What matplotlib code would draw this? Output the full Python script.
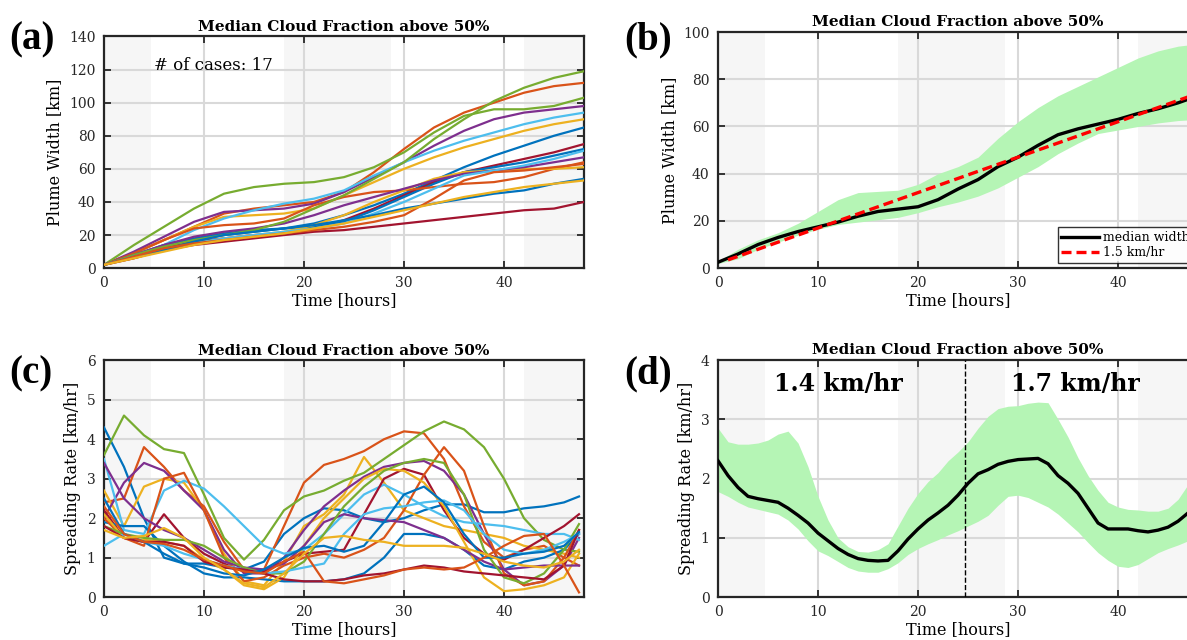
import matplotlib.pyplot as plt

plt.rcParams['font.family'] = ['DejaVu Serif']

# MATLAB default colour order
c_blue, c_orange, c_yellow = '#0072BD', '#D95319', '#EDB120'
c_purple, c_green, c_lblue, c_red = '#7E2F8E', '#77AC30', '#4DBEEE', '#A2142F'

# night-time shading (hours)
night = [(0, 4.7), (18, 28.7), (42, 48)]

# ---------------- panel (a): plume width of each case ----------------
t_a = [0, 3, 6, 9, 12, 15, 18, 21, 24, 27, 30, 33, 36, 39, 42, 45, 48]
width_cases = [
    (c_blue,   [2, 7, 12, 17, 20, 22, 24, 27, 32, 38, 45, 53, 61, 68, 74, 80, 85]),
    (c_orange, [2, 9, 17, 25, 33, 36, 38, 40, 46, 58, 72, 85, 94, 100, 106, 110, 112]),
    (c_yellow, [2, 9, 17, 25, 31, 32, 33, 36, 44, 52, 60, 67, 73, 78, 83, 87, 90]),
    (c_purple, [2, 10, 19, 28, 34, 35, 36, 39, 46, 55, 64, 74, 83, 90, 94, 96, 98]),
    (c_green,  [2, 14, 25, 36, 45, 49, 51, 52, 55, 61, 70, 82, 92, 96, 96, 98, 103]),
    (c_lblue,  [2, 7, 14, 23, 30, 35, 39, 42, 47, 56, 64, 71, 77, 82, 87, 91, 94]),
    (c_red,    [2, 7, 12, 16, 18, 20, 21, 24, 29, 36, 44, 52, 58, 62, 66, 70, 75]),
    (c_blue,   [2, 8, 14, 18, 21, 23, 24, 25, 28, 35, 43, 51, 58, 61, 64, 68, 72]),
    (c_orange, [2, 9, 17, 24, 26, 27, 30, 38, 43, 46, 47, 49, 51, 52, 55, 60, 64]),
    (c_yellow, [2, 6, 11, 15, 18, 20, 22, 26, 32, 40, 47, 54, 58, 59, 60, 60, 61]),
    (c_purple, [2, 8, 14, 19, 22, 24, 27, 32, 38, 43, 48, 53, 57, 59, 61, 64, 67]),
    (c_green,  [2, 8, 13, 17, 20, 23, 28, 36, 44, 54, 64, 78, 90, 101, 109, 115, 119]),
    (c_lblue,  [2, 7, 11, 15, 18, 20, 22, 24, 27, 33, 40, 48, 56, 59, 62, 66, 71]),
    (c_red,    [2, 6, 11, 14, 16, 18, 20, 22, 23, 25, 27, 29, 31, 33, 35, 36, 40]),
    (c_blue,   [2, 7, 11, 16, 20, 22, 24, 26, 29, 32, 36, 39, 42, 45, 47, 51, 54]),
    (c_orange, [2, 7, 12, 15, 17, 19, 21, 23, 25, 28, 32, 42, 53, 58, 59, 61, 63]),
    (c_yellow, [2, 6, 10, 14, 17, 19, 21, 24, 27, 31, 35, 39, 43, 46, 49, 51, 53]),
]

# ---------------- panel (b): median width and spread ----------------
t_b = [0, 2, 4, 6, 8, 10, 12, 14, 16, 18, 20, 22, 24, 26, 28, 30, 32, 34, 36, 38, 40, 42, 44, 46, 48]
width_median = [2.5, 6, 10, 13, 15.5, 17.5, 19.5, 22, 24, 25, 26, 29, 33.5, 37.5, 43, 47,
                52, 56.5, 59, 61, 63, 65.5, 67.5, 70, 73]
width_upper = [3, 8, 12, 15, 19, 24, 29, 32, 32.5, 33, 35.5, 40, 43, 47, 55, 62,
               68, 73, 77, 81, 85, 89, 92, 94, 95]
width_lower = [2, 4, 8, 11, 14, 16.5, 18.5, 19.5, 20.5, 21.5, 23.5, 26, 28, 30.5, 34, 38.5,
               43, 48.5, 53, 57, 58.5, 60, 61.5, 62.5, 63]
fit_t = [1, 48]
fit_w = [3.5, 74]

# ---------------- panel (c): spreading rate of each case ----------------
t_c = [0, 2, 4, 6, 8, 10, 12, 14, 16, 18, 20, 22, 24, 26, 28, 30, 32, 34, 36, 38, 40, 42, 44, 46, 47.5]
rate_cases = [
    (c_blue,   [4.3, 3.3, 2.0, 1.0, 0.85, 0.85, 0.75, 0.7, 0.9, 1.6, 2.0, 2.25, 2.2, 2.0, 1.9, 2.0,
                2.2, 2.35, 2.35, 2.15, 2.15, 2.25, 2.3, 2.4, 2.55]),
    (c_orange, [2.4, 2.5, 3.8, 3.3, 2.7, 2.3, 1.4, 0.7, 0.7, 1.8, 2.9, 3.35, 3.5, 3.7, 4.0, 4.2,
                4.15, 3.5, 2.3, 1.4, 1.0, 1.2, 1.3, 1.0, 0.8]),
    (c_yellow, [2.7, 1.8, 2.8, 3.0, 2.9, 2.2, 1.1, 0.4, 0.3, 0.9, 1.8, 2.1, 2.6, 3.55, 2.9, 2.2,
                2.0, 1.8, 1.7, 1.6, 1.5, 1.3, 1.2, 1.1, 1.0]),
    (c_purple, [2.0, 2.9, 3.4, 3.2, 2.7, 2.2, 1.2, 0.6, 0.6, 1.0, 1.7, 2.3, 2.7, 3.05, 3.3, 3.4,
                3.45, 3.2, 2.6, 1.6, 0.7, 0.3, 0.4, 0.8, 1.5]),
    (c_green,  [3.6, 4.6, 4.1, 3.75, 3.65, 2.6, 1.5, 0.95, 1.45, 2.2, 2.55, 2.7, 2.95, 3.15, 3.5, 3.85,
                4.2, 4.45, 4.25, 3.8, 3.0, 2.0, 1.45, 1.2, 1.15]),
    (c_lblue,  [3.5, 1.7, 1.6, 2.7, 2.95, 2.75, 2.3, 1.8, 1.3, 1.1, 1.2, 1.6, 2.1, 2.6, 2.85, 2.6,
                2.3, 2.05, 1.9, 1.85, 1.8, 1.7, 1.6, 1.6, 1.45]),
    (c_red,    [2.2, 1.5, 1.4, 2.1, 1.5, 1.1, 0.85, 0.65, 0.65, 0.9, 1.1, 1.15, 1.2, 2.1, 3.0, 3.25,
                3.1, 2.2, 1.5, 1.1, 0.95, 1.2, 1.5, 1.8, 2.1]),
    (c_blue,   [1.9, 1.8, 1.8, 1.3, 0.9, 0.6, 0.5, 0.5, 0.45, 0.4, 0.4, 0.4, 0.45, 0.6, 1.0, 1.6,
                1.6, 1.5, 1.2, 0.8, 0.7, 0.9, 1.0, 1.2, 1.6]),
    (c_orange, [2.0, 1.5, 1.3, 3.0, 3.15, 2.2, 1.0, 0.4, 0.5, 0.8, 1.0, 1.1, 1.0, 1.2, 1.5, 2.2,
                3.1, 3.8, 3.2, 1.8, 0.6, 0.3, 0.4, 1.0, 1.7]),
    (c_yellow, [2.1, 1.5, 1.45, 1.4, 1.3, 0.95, 0.7, 0.3, 0.2, 0.5, 1.3, 2.0, 2.5, 3.0, 3.25, 3.2,
                2.9, 2.3, 1.4, 0.5, 0.15, 0.2, 0.3, 0.5, 1.1]),
    (c_purple, [3.4, 2.5, 2.0, 1.7, 1.5, 1.2, 0.9, 0.75, 0.7, 0.85, 1.3, 1.9, 2.1, 2.0, 1.95, 1.9,
                1.7, 1.5, 1.2, 0.9, 0.7, 0.75, 0.8, 0.8, 0.8]),
    (c_green,  [1.8, 1.6, 1.5, 1.45, 1.45, 1.3, 1.0, 0.75, 0.6, 0.6, 0.9, 1.6, 2.3, 2.8, 3.2, 3.4,
                3.5, 3.4, 2.6, 1.2, 0.5, 0.35, 0.6, 1.2, 1.85]),
    (c_lblue,  [1.3, 1.6, 1.4, 1.3, 1.1, 0.95, 0.8, 0.7, 0.6, 0.65, 0.75, 0.85, 1.6, 2.1, 2.25, 2.3,
                2.4, 2.45, 2.2, 1.6, 1.2, 1.1, 1.2, 1.4, 1.6]),
    (c_red,    [1.8, 1.5, 1.4, 1.4, 1.3, 0.9, 0.75, 0.7, 0.6, 0.45, 0.4, 0.4, 0.45, 0.55, 0.6, 0.7,
                0.8, 0.75, 0.65, 0.6, 0.55, 0.5, 0.45, 0.8, 1.7]),
    (c_blue,   [2.5, 1.6, 1.4, 1.1, 0.85, 0.75, 0.6, 0.55, 0.7, 1.0, 1.25, 1.3, 1.15, 1.3, 1.9, 2.6,
                2.8, 2.4, 1.6, 1.0, 1.0, 1.1, 1.15, 1.3, 1.65]),
    (c_orange, [2.3, 1.6, 1.4, 1.35, 1.2, 0.95, 0.8, 0.65, 0.6, 0.9, 1.15, 0.4, 0.35, 0.45, 0.55, 0.7,
                0.75, 0.7, 0.75, 1.0, 1.3, 1.55, 1.6, 0.8, 0.12]),
    (c_yellow, [1.7, 1.5, 1.55, 1.75, 1.5, 1.0, 0.7, 0.35, 0.25, 0.6, 1.1, 1.5, 1.55, 1.45, 1.4, 1.3,
                1.3, 1.3, 1.25, 1.1, 0.9, 0.8, 0.75, 0.9, 1.2]),
]

# ---------------- panel (d): median spreading rate and spread ----------------
t_d = list(range(49))
rate_median = [2.3, 2.05, 1.85, 1.7, 1.66, 1.63, 1.6, 1.5, 1.38, 1.25, 1.08, 0.95, 0.82, 0.72, 0.65,
               0.62, 0.61, 0.62, 0.78, 0.98, 1.15, 1.3, 1.42, 1.55, 1.72, 1.92, 2.08, 2.15, 2.24,
               2.29, 2.32, 2.33, 2.34, 2.25, 2.05, 1.92, 1.75, 1.5, 1.25, 1.15, 1.15, 1.15, 1.12,
               1.1, 1.13, 1.18, 1.28, 1.42, 1.6]
rate_upper = [2.85, 2.62, 2.58, 2.58, 2.6, 2.65, 2.75, 2.8, 2.6, 2.2, 1.7, 1.3, 1.0, 0.85, 0.77,
              0.76, 0.8, 0.9, 1.2, 1.5, 1.75, 1.95, 2.1, 2.3, 2.45, 2.62, 2.85, 3.05, 3.18, 3.22,
              3.23, 3.27, 3.29, 3.28, 3.0, 2.7, 2.35, 2.05, 1.8, 1.6, 1.52, 1.48, 1.47, 1.45,
              1.45, 1.5, 1.65, 1.9, 2.1]
rate_lower = [1.78, 1.7, 1.6, 1.52, 1.48, 1.44, 1.4, 1.3, 1.15, 0.95, 0.78, 0.7, 0.6, 0.5, 0.44,
              0.42, 0.42, 0.48, 0.58, 0.72, 0.82, 0.9, 0.97, 1.05, 1.12, 1.2, 1.28, 1.38, 1.55,
              1.7, 1.72, 1.68, 1.6, 1.52, 1.4, 1.25, 1.1, 0.92, 0.75, 0.62, 0.52, 0.5, 0.55,
              0.65, 0.75, 0.82, 0.88, 0.95, 1.0]
split_hour = 24.7

title = 'Median Cloud Fraction above 50%'


def style(ax, ymax, ystep):
    for a, b in night:
        ax.axvspan(a, b, color='#f6f6f6', zorder=0, lw=0)
    ax.set_xlim(0, 48)
    ax.set_ylim(0, ymax)
    ax.set_xticks([0, 10, 20, 30, 40])
    ax.set_yticks(range(0, ymax + 1, ystep))
    ax.grid(True, color='#d9d9d9', lw=1.5, zorder=1)
    ax.set_axisbelow(True)
    ax.tick_params(direction='in', top=True, right=True, length=5, width=1.3,
                   labelsize=10, colors='#262626', pad=6)
    for s in ax.spines.values():
        s.set_linewidth(1.6)
        s.set_color('#262626')
    ax.set_title(title, fontsize=11, fontweight='bold', pad=4)
    ax.set_xlabel('Time [hours]', fontsize=11.5, labelpad=1)


fig = plt.figure(figsize=(11.87, 6.4), dpi=100)
ax_a = fig.add_axes([0.0876, 0.581, 0.4044, 0.362])
ax_b = fig.add_axes([0.6049, 0.581, 0.4044, 0.369])
ax_c = fig.add_axes([0.0876, 0.067, 0.4044, 0.370])
ax_d = fig.add_axes([0.6049, 0.067, 0.4044, 0.3705])

# (a)
style(ax_a, 140, 20)
for col, vals in width_cases:
    ax_a.plot(t_a, vals, color=col, lw=1.6, zorder=3)
ax_a.set_ylabel('Plume Width [km]', fontsize=11.5)
ax_a.text(0.105, 0.855, '# of cases: 17', transform=ax_a.transAxes, fontsize=12)

# (b)
style(ax_b, 100, 20)
ax_b.fill_between(t_b, width_lower, width_upper, color='#b5f5b5', lw=0, zorder=2)
ax_b.plot(t_b, width_median, color='black', lw=2.4, zorder=3, label='median width')
ax_b.plot(fit_t, fit_w, color='red', lw=2.4, ls=(0, (3, 1.5)), zorder=4, label='1.5 km/hr')
leg = ax_b.legend(loc='lower right', fontsize=9, frameon=True, fancybox=False,
                  edgecolor='black', handlelength=3.0, borderaxespad=0.4,
                  borderpad=0.3, labelspacing=0.2, handletextpad=0.3)
leg.get_frame().set_linewidth(1.0)
ax_b.set_ylabel('Plume Width [km]', fontsize=11.5)

# (c)
style(ax_c, 6, 1)
for col, vals in rate_cases:
    ax_c.plot(t_c, vals, color=col, lw=1.6, zorder=3)
ax_c.set_ylabel('Spreading Rate [km/hr]', fontsize=11.5)

# (d)
style(ax_d, 4, 1)
ax_d.fill_between(t_d, rate_lower, rate_upper, color='#b5f5b5', lw=0, zorder=2)
ax_d.plot(t_d, rate_median, color='black', lw=2.4, zorder=3)
ax_d.axvline(split_hour, color='black', ls='--', lw=1.0, zorder=4)
ax_d.text(12.0, 3.6, '1.4 km/hr', fontsize=17, fontweight='bold', ha='center', va='center')
ax_d.text(35.7, 3.6, '1.7 km/hr', fontsize=17, fontweight='bold', ha='center', va='center')
ax_d.set_ylabel('Spreading Rate [km/hr]', fontsize=11.5)

# panel letters
for x, y, s in [(0.008, 0.938, '(a)'), (0.526, 0.938, '(b)'),
                (0.008, 0.415, '(c)'), (0.526, 0.415, '(d)')]:
    fig.text(x, y, s, fontsize=28, fontweight='bold', family='Liberation Serif', va='center')

fig.savefig('out.png', dpi=100)
